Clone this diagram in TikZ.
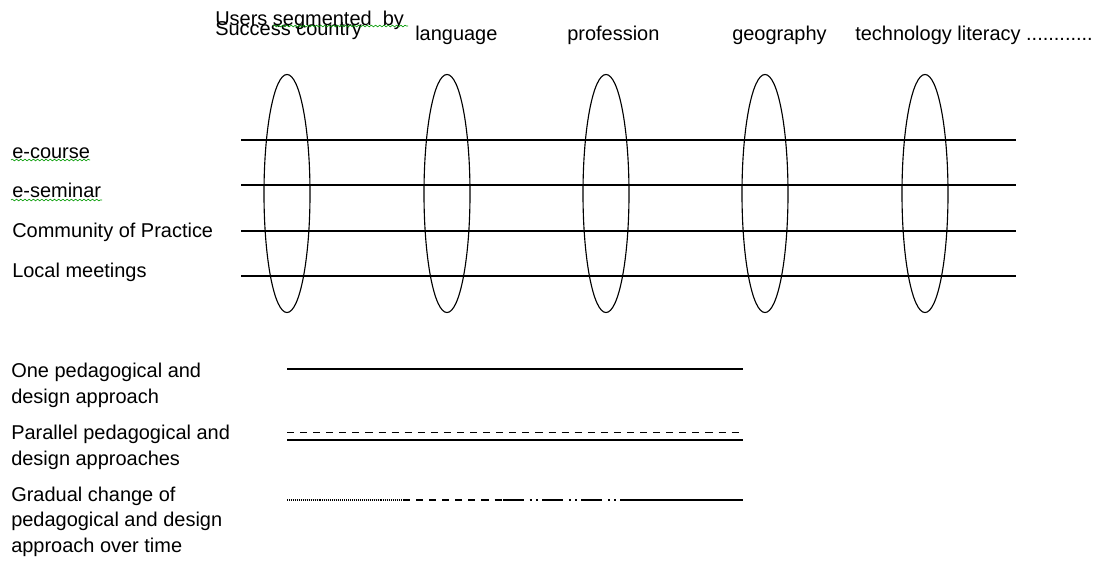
\documentclass[tikz,border=0pt]{standalone}
\usepackage{fontspec}
\setmainfont{Liberation Sans}
\usetikzlibrary{shapes.geometric,decorations.pathmorphing}

\begin{document}
\begin{tikzpicture}[
    x=0.025cm, y=-0.025cm,
    txt/.style={font=\fontsize{14.2}{17.8}\selectfont, inner sep=0pt, anchor=base west, align=left},
    segment/.style={ellipse, draw, line width=0.8pt, minimum width=1.15cm, minimum height=5.95cm, inner sep=0pt},
    channel/.style={line width=0.8pt},
    spell/.style={draw=green!60!black, line width=0.45pt, decorate, decoration={snake, amplitude=0.6pt, segment length=3pt}},
    dotline/.style={line width=0.8pt, dash pattern=on 0.6pt off 0.8pt},
    dashline/.style={line width=0.9pt, dash pattern=on 5pt off 4.3pt},
    dashdotdot/.style={line width=0.9pt, dash pattern=on 15pt off 4pt on 1.4pt off 3pt on 1.4pt off 3pt}
]
    \useasboundingbox (0,0) rectangle (1099,560);

    % Segment headings
    \node[txt] (users) at (215,25) {Users segmented~~by};
    \node[txt] (country) at (215,35) {Success country};
    \node[txt] (language) at (415,40) {language};
    \node[txt] (profession) at (567,40) {profession};
    \node[txt] (geography) at (732,40) {geography};
    \node[txt] (literacy) at (855,40) {technology literacy ............};

    % Segments
    \node[segment] (seg1) at (287,193.5) {};
    \node[segment] (seg2) at (447,193.5) {};
    \node[segment] (seg3) at (606,193.5) {};
    \node[segment] (seg4) at (765,193.5) {};
    \node[segment] (seg5) at (925,193.5) {};

    % Channels
    \node[txt] (course) at (12,158) {e-course};
    \node[txt] (seminar) at (12,197) {e-seminar};
    \node[txt] (cop) at (12,237) {Community of Practice};
    \node[txt] (local) at (12,277) {Local meetings};

    \coordinate (course-w) at (241,140);   \coordinate (course-e) at (1016,140);
    \coordinate (seminar-w) at (241,185);  \coordinate (seminar-e) at (1016,185);
    \coordinate (cop-w) at (241,231);      \coordinate (cop-e) at (1016,231);
    \coordinate (local-w) at (241,276);    \coordinate (local-e) at (1016,276);
    \draw[channel] (course-w) -- (course-e);
    \draw[channel] (seminar-w) -- (seminar-e);
    \draw[channel] (cop-w) -- (cop-e);
    \draw[channel] (local-w) -- (local-e);

    % Spelling marks
    \coordinate (users-s) at (273,26);  \coordinate (users-t) at (408,26);
    \coordinate (course-s) at (11,160); \coordinate (course-t) at (90,160);
    \coordinate (seminar-s) at (11,200); \coordinate (seminar-t) at (102,200);
    \draw[spell] (users-s) -- (users-t);
    \draw[spell] (course-s) -- (course-t);
    \draw[spell] (seminar-s) -- (seminar-t);

    % Approaches (base = last line)
    \node[txt] (one) at (11,403) {One pedagogical and\\design approach};
    \node[txt] (parallel) at (11,465) {Parallel pedagogical and\\design approaches};
    \node[txt] (gradual) at (11,552) {Gradual change of\\pedagogical and design\\approach over time};

    \coordinate (one-w) at (287,369);    \coordinate (one-e) at (743,369);
    \coordinate (par-w) at (287,432.5);  \coordinate (par-e) at (743,432.5);
    \coordinate (par2-w) at (287,440);   \coordinate (par2-e) at (743,440);
    \coordinate (grad-a) at (287,500);   \coordinate (grad-b) at (403,500);
    \coordinate (grad-c) at (503,500);   \coordinate (grad-d) at (623,500);
    \coordinate (grad-e) at (743,500);
    \draw[channel] (one-w) -- (one-e);
    \draw[dashline] (par-w) -- (par-e);
    \draw[channel] (par2-w) -- (par2-e);
    \draw[dotline] (grad-a) -- (grad-b);
    \draw[dashline] (grad-b) -- (grad-c);
    \draw[dashdotdot] (grad-c) -- (grad-d);
    \draw[channel] (grad-d) -- (grad-e);
\end{tikzpicture}
\end{document}
